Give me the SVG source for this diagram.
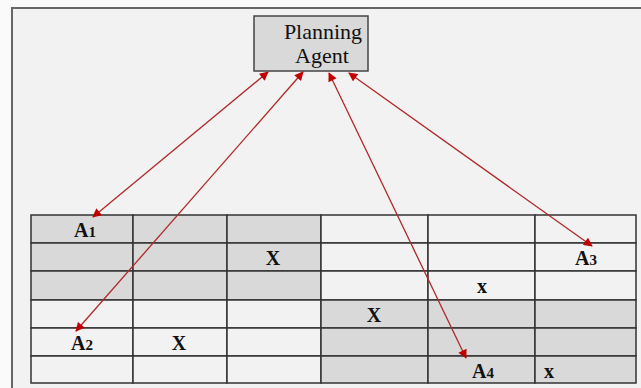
<svg xmlns="http://www.w3.org/2000/svg" width="641" height="388" viewBox="0 0 641 388">
<style>
.cell{stroke:#333;stroke-width:1.5}
.lt{fill:#f2f2f2}
.dk{fill:#d9d9d9}
.lbl{font-family:"Liberation Serif",serif;font-size:20px;font-weight:bold;fill:#111;text-anchor:middle}
.sm{font-size:15px}
.conn{stroke:#b0282a;stroke-width:1.3;fill:none;marker-start:url(#ah);marker-end:url(#ah)}
</style>
<defs>
<marker id="ah" viewBox="0 0 10 10" refX="9" refY="5" markerWidth="10" markerHeight="9" markerUnits="userSpaceOnUse" orient="auto-start-reverse">
<path d="M0,0 L10,5 L0,10 z" fill="#c00000"/>
</marker>
</defs>
<rect x="0" y="0" width="641" height="388" fill="#fafafa"/>
<rect x="12" y="8" width="640" height="390" fill="#f2f2f2" stroke="#666" stroke-width="2"/>
<g id="grid">
<rect class="cell dk" x="31" y="215" width="102" height="28"/>
<rect class="cell dk" x="133" y="215" width="94" height="28"/>
<rect class="cell dk" x="227" y="215" width="94" height="28"/>
<rect class="cell lt" x="321" y="215" width="107" height="28"/>
<rect class="cell lt" x="428" y="215" width="107" height="28"/>
<rect class="cell lt" x="535" y="215" width="101" height="28"/>
<rect class="cell dk" x="31" y="243" width="102" height="28"/>
<rect class="cell dk" x="133" y="243" width="94" height="28"/>
<rect class="cell dk" x="227" y="243" width="94" height="28"/>
<rect class="cell lt" x="321" y="243" width="107" height="28"/>
<rect class="cell lt" x="428" y="243" width="107" height="28"/>
<rect class="cell lt" x="535" y="243" width="101" height="28"/>
<rect class="cell dk" x="31" y="271" width="102" height="29"/>
<rect class="cell dk" x="133" y="271" width="94" height="29"/>
<rect class="cell dk" x="227" y="271" width="94" height="29"/>
<rect class="cell lt" x="321" y="271" width="107" height="29"/>
<rect class="cell lt" x="428" y="271" width="107" height="29"/>
<rect class="cell lt" x="535" y="271" width="101" height="29"/>
<rect class="cell lt" x="31" y="300" width="102" height="28"/>
<rect class="cell lt" x="133" y="300" width="94" height="28"/>
<rect class="cell lt" x="227" y="300" width="94" height="28"/>
<rect class="cell dk" x="321" y="300" width="107" height="28"/>
<rect class="cell dk" x="428" y="300" width="107" height="28"/>
<rect class="cell dk" x="535" y="300" width="101" height="28"/>
<rect class="cell lt" x="31" y="328" width="102" height="28"/>
<rect class="cell lt" x="133" y="328" width="94" height="28"/>
<rect class="cell lt" x="227" y="328" width="94" height="28"/>
<rect class="cell dk" x="321" y="328" width="107" height="28"/>
<rect class="cell dk" x="428" y="328" width="107" height="28"/>
<rect class="cell dk" x="535" y="328" width="101" height="28"/>
<rect class="cell lt" x="31" y="356" width="102" height="27"/>
<rect class="cell lt" x="133" y="356" width="94" height="27"/>
<rect class="cell lt" x="227" y="356" width="94" height="27"/>
<rect class="cell dk" x="321" y="356" width="107" height="27"/>
<rect class="cell dk" x="428" y="356" width="107" height="27"/>
<rect class="cell dk" x="535" y="356" width="101" height="27"/>
</g>
<g id="labels">
<text class="lbl" x="85" y="237">A<tspan class="sm">1</tspan></text>
<text class="lbl" x="273" y="265">X</text>
<text class="lbl" x="586" y="265">A<tspan class="sm">3</tspan></text>
<text class="lbl" x="482" y="293">x</text>
<text class="lbl" x="374" y="322">X</text>
<text class="lbl" x="82" y="350">A<tspan class="sm">2</tspan></text>
<text class="lbl" x="179" y="350">X</text>
<text class="lbl" x="483" y="378">A<tspan class="sm">4</tspan></text>
<text class="lbl" x="549" y="378">x</text>
</g>
<g id="planning-agent">
<rect x="254" y="16" width="114" height="55" fill="#d9d9d9" stroke="#444" stroke-width="1.5"/>
<text x="323" y="39" font-family="Liberation Serif,serif" font-size="22" fill="#111" text-anchor="middle">Planning</text>
<text x="322" y="63" font-family="Liberation Serif,serif" font-size="22" fill="#111" text-anchor="middle">Agent</text>
</g>
<g id="connectors">
<line class="conn" x1="268" y1="72" x2="93" y2="217"/>
<line class="conn" x1="303" y1="72" x2="76" y2="331"/>
<line class="conn" x1="329" y1="73" x2="466" y2="358"/>
<line class="conn" x1="349" y1="73" x2="592" y2="246"/>
</g>
</svg>
